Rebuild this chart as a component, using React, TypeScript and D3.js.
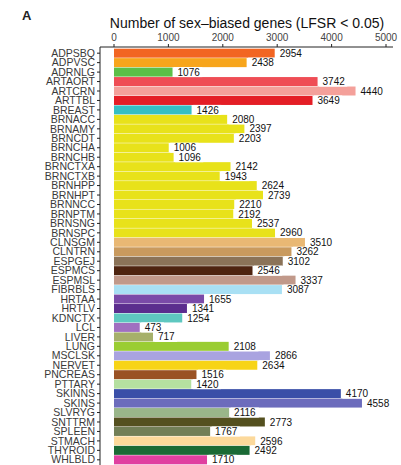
import React from "react";
import * as d3 from "d3";

const tissues = ["ADPSBQ","ADPVSC","ADRNLG","ARTAORT","ARTCRN","ARTTBL","BREAST","BRNACC","BRNAMY","BRNCDT","BRNCHA","BRNCHB","BRNCTXA","BRNCTXB","BRNHPP","BRNHPT","BRNNCC","BRNPTM","BRNSNG","BRNSPC","CLNSGM","CLNTRN","ESPGEJ","ESPMCS","ESPMSL","FIBRBLS","HRTAA","HRTLV","KDNCTX","LCL","LIVER","LUNG","MSCLSK","NERVET","PNCREAS","PTTARY","SKINNS","SKINS","SLVRYG","SNTTRM","SPLEEN","STMACH","THYROID","WHLBLD"];
const counts = [2954,2438,1076,3742,4440,3649,1426,2080,2397,2203,1006,1096,2142,1943,2624,2739,2210,2192,2537,2960,3510,3262,3102,2546,3337,3087,1655,1341,1254,473,717,2108,2866,2634,1516,1420,4170,4558,2116,2773,1767,2596,2492,1710];
const colors = ["#f26522","#f7a51c","#5cbf47","#ef4d55","#f4a09a","#e41e26","#35bfc4","#e8e21a","#e8e21a","#e8e21a","#e8e21a","#e8e21a","#e8e21a","#e8e21a","#e8e21a","#e8e21a","#e8e21a","#e8e21a","#e8e21a","#e8e21a","#e9b874","#c99a5e","#8b7358","#4e2410","#c1998a","#a9e0f4","#7a4aa8","#5b2d8e","#5ec8c0","#a070c0","#a6b06a","#9acd32","#a9a3e0","#f7d417","#9a5224","#b5e0a0","#3a4fa8","#6c6cbc","#9ab68a","#54501f","#727f57","#fcd99b","#1a6a35","#e040a0"];
const xTicks = [0,1000,2000,3000,4000,5000];
const title = "Number of sex\u2013biased genes (LFSR < 0.05)";

export default function App() {
  const W = 401, H = 465;
  const x = d3.scaleLinear().domain([0, 5000]).range([114, 386]);
  const y = d3.scaleBand<string>().domain(tissues).range([48.5, 464.5]).paddingInner(0.05).paddingOuter(0.02);
  const axisY = 47;
  const yAxisX = 100;
  const font = "'Liberation Sans', Arial, Helvetica, sans-serif";
  const narrow = "'Liberation Sans Narrow', 'Arial Narrow', 'Liberation Sans', Arial, sans-serif";
  const valFs = 10;
  return (
    <svg width={W} height={H} style={{ position: "absolute", left: 0, top: 0, background: "#fff" }} fontFamily={font}>
      <text x={22} y={20} fontSize={13} fontWeight="bold" fill="#222">A</text>
      <text x={(112 + 382) / 2} y={28} fontSize={14} textAnchor="middle" fill="#111">{title}</text>
      {/* x axis */}
      <line x1={yAxisX} x2={393} y1={axisY} y2={axisY} stroke="#222" strokeWidth={1} />
      {xTicks.map((t) => (
        <g key={t}>
          <line x1={x(t)} x2={x(t)} y1={axisY} y2={axisY - 3} stroke="#222" strokeWidth={1} />
          <text x={x(t)} y={axisY - 6} fontSize={10} fontFamily={narrow} textAnchor="middle" fill="#444">{t}</text>
        </g>
      ))}
      {/* y axis */}
      <line x1={yAxisX} x2={yAxisX} y1={axisY} y2={H} stroke="#222" strokeWidth={1} />
      {tissues.map((t) => {
        const cy = (y(t) as number) + y.bandwidth() / 2;
        return (
          <g key={t}>
            <line x1={yAxisX - 3} x2={yAxisX} y1={cy} y2={cy} stroke="#222" strokeWidth={1} />
            <text x={yAxisX - 5} y={cy} dy="0.35em" fontSize={10.5} textAnchor="end" fill="#3a3a3a">{t}</text>
          </g>
        );
      })}
      {/* bars */}
      {tissues.map((t, i) => (
        <rect key={t} x={x(0)} y={y(t) as number} width={x(counts[i]) - x(0)} height={y.bandwidth()} fill={colors[i]} />
      ))}
      {/* value labels */}
      {tissues.map((t, i) => {
        const cy = (y(t) as number) + y.bandwidth() / 2;
        const ex = x(counts[i]);
        const tw = String(counts[i]).length * valFs * 0.556;
        return (
          <g key={t}>
            <rect x={ex + 1.5} y={cy - 5} width={tw + 6} height={10} fill="#fff" />
            <text x={ex + 5} y={cy} dy="0.36em" fontSize={valFs} fill="#111">{counts[i]}</text>
          </g>
        );
      })}
    </svg>
  );
}
